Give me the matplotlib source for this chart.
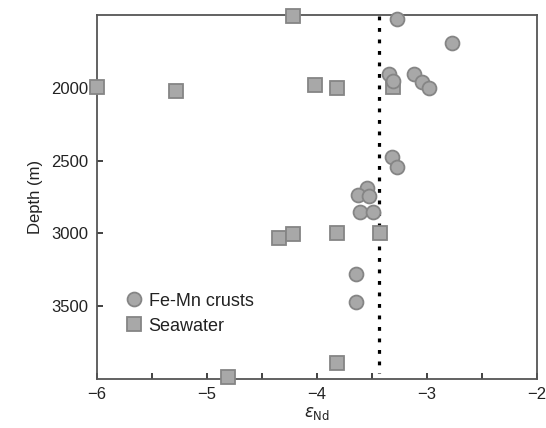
import matplotlib
matplotlib.use("Agg")
import matplotlib.pyplot as plt

plt.rcParams['font.family'] = ['Liberation Sans', 'DejaVu Sans']

# Fe-Mn crusts
crust_eps = [-3.27, -2.77, -3.35, -3.31, -3.12, -3.05, -2.98, -3.32, -3.27,
             -3.55, -3.63, -3.53, -3.61, -3.49, -3.65, -3.65]
crust_depth = [1525, 1693, 1904, 1952, 1904, 1959, 2000, 2477, 2546,
               2690, 2736, 2743, 2850, 2850, 3282, 3473]

# Seawater
sw_eps = [-4.22, -6.0, -5.28, -4.02, -3.82, -3.31, -4.35, -4.22, -3.82, -3.43, -3.82, -4.81]
sw_depth = [1510, 1995, 2025, 1980, 2000, 1995, 3030, 3003, 2996, 3000, 3890, 3985]

# dotted reference line
ref_eps = -3.44
ref_depth = [1505, 3960]

fill = '#a8a8a8'
edge = '#858585'

fig = plt.figure(figsize=(5.46, 4.28), dpi=100)
ax = fig.add_axes([0.1777, 0.1145, 0.806, 0.8505])

ax.plot([ref_eps, ref_eps], ref_depth, color='black', lw=2.3,
        linestyle=(0, (1.2, 2.4)), zorder=2)

ax.plot(sw_eps, sw_depth, 's', ms=9.5, mfc=fill, mec=edge, mew=1.3,
        label='Seawater', zorder=3, clip_on=False)
ax.plot(crust_eps, crust_depth, 'o', ms=10, mfc=fill, mec=edge, mew=1.3,
        label='Fe-Mn crusts', zorder=4, clip_on=False)

ax.set_xlim(-6, -2)
ax.set_ylim(4000, 1500)
ax.set_xticks([-6, -5.5, -5, -4.5, -4, -3.5, -3, -2.5, -2])
ax.set_xticklabels(['\u22126', '', '\u22125', '', '\u22124', '', '\u22123', '', '\u22122'])
ax.set_yticks([2000, 2500, 3000, 3500])

for side in ['top', 'right', 'left', 'bottom']:
    ax.spines[side].set_color('#555555')
    ax.spines[side].set_linewidth(1.3)
ax.tick_params(direction='in', length=4, width=1.3, color='#333333',
               labelsize=12, labelcolor='#222222', pad=6)

ax.set_ylabel('Depth (m)', fontsize=12, color='#222222', labelpad=6)
ax.set_xlabel(r'$\varepsilon_{\rm Nd}$', fontsize=12, color='#222222', labelpad=2)

handles, labels = ax.get_legend_handles_labels()
ax.legend(handles[::-1], labels[::-1], loc='lower left', bbox_to_anchor=(0.023, 0.077),
          frameon=False, fontsize=13, handletextpad=0.2, labelspacing=0.45,
          handlelength=1.2, labelcolor='#222222')

fig.savefig('out.png', dpi=100)
